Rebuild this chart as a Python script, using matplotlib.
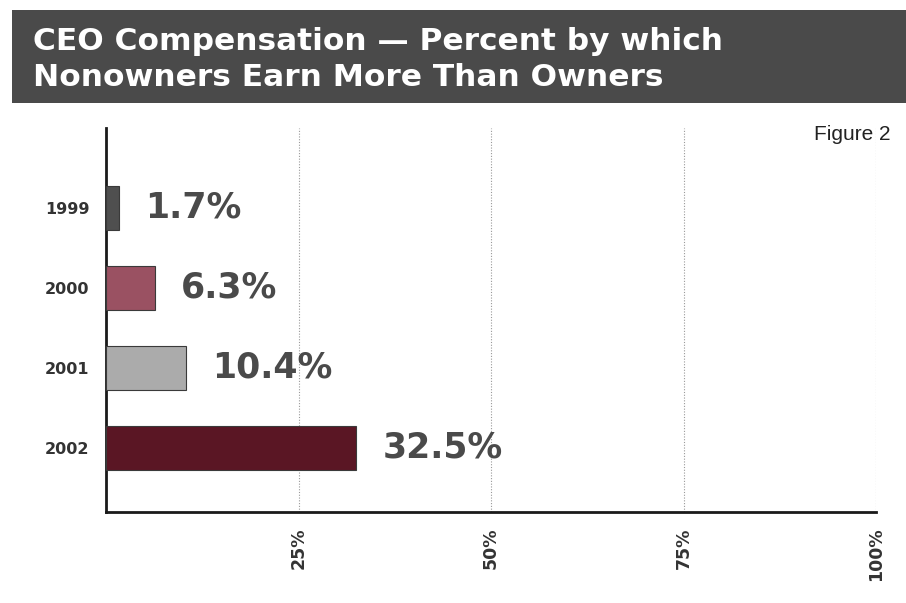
import matplotlib
matplotlib.use("Agg")
import matplotlib.pyplot as plt
from matplotlib.patches import Rectangle

years = ["1999", "2000", "2001", "2002"]
values = [1.7, 6.3, 10.4, 32.5]
value_labels = ["1.7%", "6.3%", "10.4%", "32.5%"]
tick_vals = [25, 50, 75, 100]
tick_labels = ["25%", "50%", "75%", "100%"]
colors = ["#4f4f4f", "#9a5162", "#ababab", "#5a1624"]

fig = plt.figure(figsize=(9.06, 6.03), dpi=100)
fig.patch.set_facecolor("white")

# title bar
fig.patches.append(Rectangle((12/906, 1-103/603), 1.0, 93/603, transform=fig.transFigure,
                             facecolor="#4a4a4a", edgecolor="none", zorder=0))
fig.text(33/906, 1-41/603, "CEO Compensation \u2014 Percent by which",
         color="white", fontsize=22.5, fontweight="bold", family="DejaVu Sans",
         va="center", ha="left")
fig.text(33/906, 1-77/603, "Nonowners Earn More Than Owners",
         color="white", fontsize=22.5, fontweight="bold", family="DejaVu Sans",
         va="center", ha="left")
fig.text(890/906, 1-135/603, "Figure 2", fontsize=15, color="#222222",
         family="Liberation Sans", ha="right", va="center")

ax = fig.add_axes([106/906, 91/603, (876-106)/906, (512-128)/603])
ypos = list(range(len(years)))
ax.barh(ypos, values, height=0.56, color=colors, edgecolor="#3a3a3a", linewidth=0.8, zorder=3)
for y, v, lab in zip(ypos, values, value_labels):
    ax.annotate(lab, (v, y), xytext=(19, 0), textcoords="offset points",
                fontsize=25, fontweight="bold", color="#4a4a4a",
                family="DejaVu Sans", ha="left", va="center", zorder=4)

ax.set_xlim(0, 100)
ax.set_ylim(3.8, -1.0)
ax.set_yticks(ypos)
ax.set_yticklabels(years, fontsize=11.5, fontweight="bold", color="#333333", family="DejaVu Sans")
ax.set_xticks(tick_vals)
ax.set_xticklabels(tick_labels, rotation=90, fontsize=12.5, fontweight="bold", color="#333333",
                   family="DejaVu Sans", va="top")
ax.tick_params(axis="both", length=0)
ax.tick_params(axis="x", pad=11)
ax.tick_params(axis="y", pad=12)
ax.grid(axis="x", linestyle=(0, (1, 1.5)), color="#999999", linewidth=0.8, zorder=0)
for s in ["top", "right"]:
    ax.spines[s].set_visible(False)
for s in ["left", "bottom"]:
    ax.spines[s].set_linewidth(2)
    ax.spines[s].set_color("#1a1a1a")

fig.savefig("out.png", dpi=100)
